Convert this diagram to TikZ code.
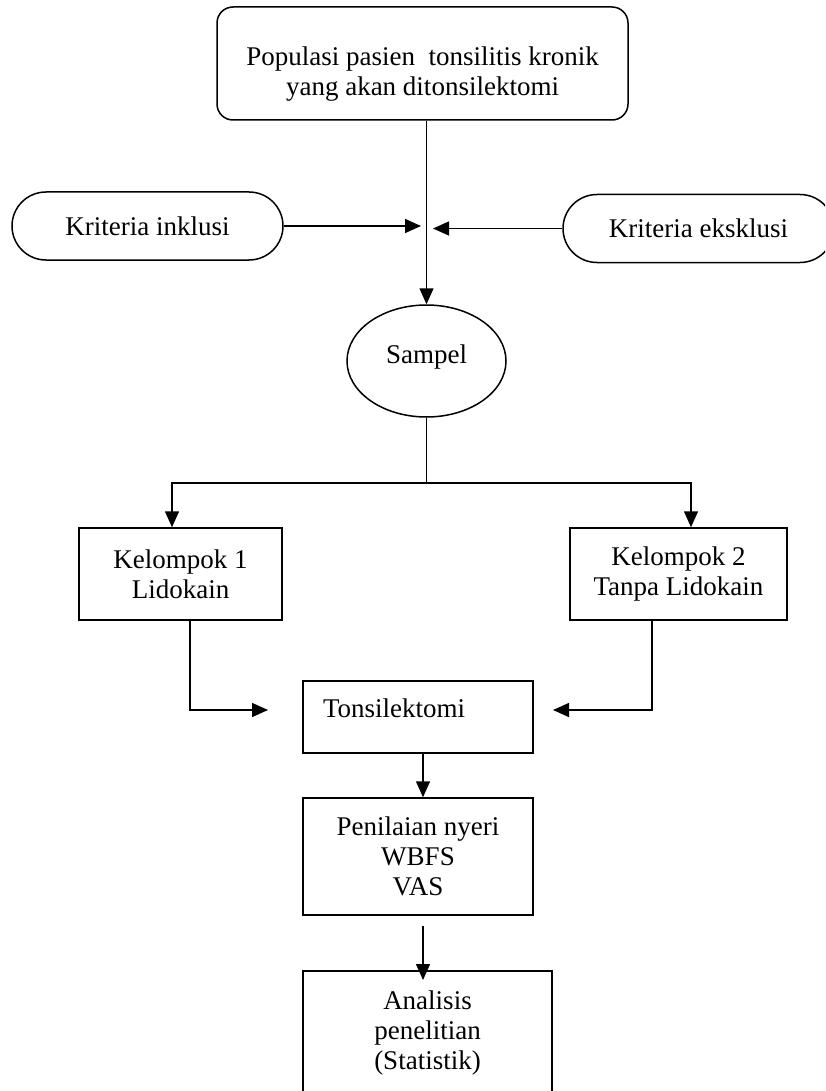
\documentclass[tikz,border=0pt]{standalone}
\usepackage{fontspec}
\setmainfont{Liberation Serif}
\usetikzlibrary{arrows.meta,shapes.geometric}
\begin{document}
\begin{tikzpicture}[x=1pt,y=-1pt,
    font=\fontsize{27}{30}\selectfont,
    box/.style={draw,line width=1.5pt,align=center,inner sep=0pt},
    pill/.style={box,rounded corners=34pt,minimum width=271pt,minimum height=68pt},
    ln/.style={line width=1.5pt},
    arr/.style={ln,-{Triangle[length=16pt,width=14pt]}}]
    \clip (0,0) rectangle (825,1091);
    \node[box,rounded corners=16pt,minimum width=411pt,minimum height=113pt,text height=69pt] (pop) at (422.5,63.5) {Populasi pasien\ \ tonsilitis kronik\\yang akan ditonsilektomi};
    \node[pill] (inkl) at (147.5,226) {Kriteria inklusi};
    \node[pill] (ekskl) at (698.5,228.5) {Kriteria eksklusi};
    \node[box,ellipse,minimum width=159pt,minimum height=112pt,text depth=14pt] (sampel) at (426.5,361) {Sampel};
    \node[box,minimum width=203pt,minimum height=92pt] (k1) at (180.5,574) {Kelompok 1\\Lidokain};
    \node[box,minimum width=217pt,minimum height=92pt] (k2) at (678.5,574) {Kelompok 2\\Tanpa Lidokain};
    \node[box,text width=190pt,align=left,inner xsep=20pt,minimum height=72pt,text depth=18pt] (tonsil) at (418,717) {Tonsilektomi};
    \node[box,minimum width=230pt,minimum height=117pt] (nilai) at (418,856.5) {Penilaian nyeri\\WBFS\\VAS};
    \node[box,anchor=north,minimum width=249pt,minimum height=125pt] (analisis) at (427.5,970) {Analisis\\penelitian\\(Statistik)};
    % free ends of the side arrows
    \coordinate (inklend) at (421,226);
    \coordinate (eksklend) at (433,228.5);
    \coordinate (split) at (426.5,483);
    \coordinate (k1end) at (268,710);
    \coordinate (k2end) at (553,710);
    \draw[arr] (pop.south -| sampel.north) -- (sampel.north);
    \draw[arr] (inkl.east) -- (inklend);
    \draw[arr] (ekskl.west) -- (eksklend);
    \draw[ln] (sampel.south) -- (split);
    \draw[arr] (split) -| ([xshift=-8.5pt]k1.north);
    \draw[arr] (split) -| ([xshift=12.5pt]k2.north);
    \draw[arr] ([xshift=9.5pt]k1.south) |- (k1end);
    \draw[arr] ([xshift=-26.5pt]k2.south) |- (k2end);
    \draw[arr] ([xshift=5pt]tonsil.south) -- ([xshift=5pt]nilai.north);
    \draw[arr] ([xshift=5pt,yshift=-10pt]nilai.south) -- ([xshift=5pt,yshift=-10pt]nilai.south |- analisis.north);
\end{tikzpicture}
\end{document}
